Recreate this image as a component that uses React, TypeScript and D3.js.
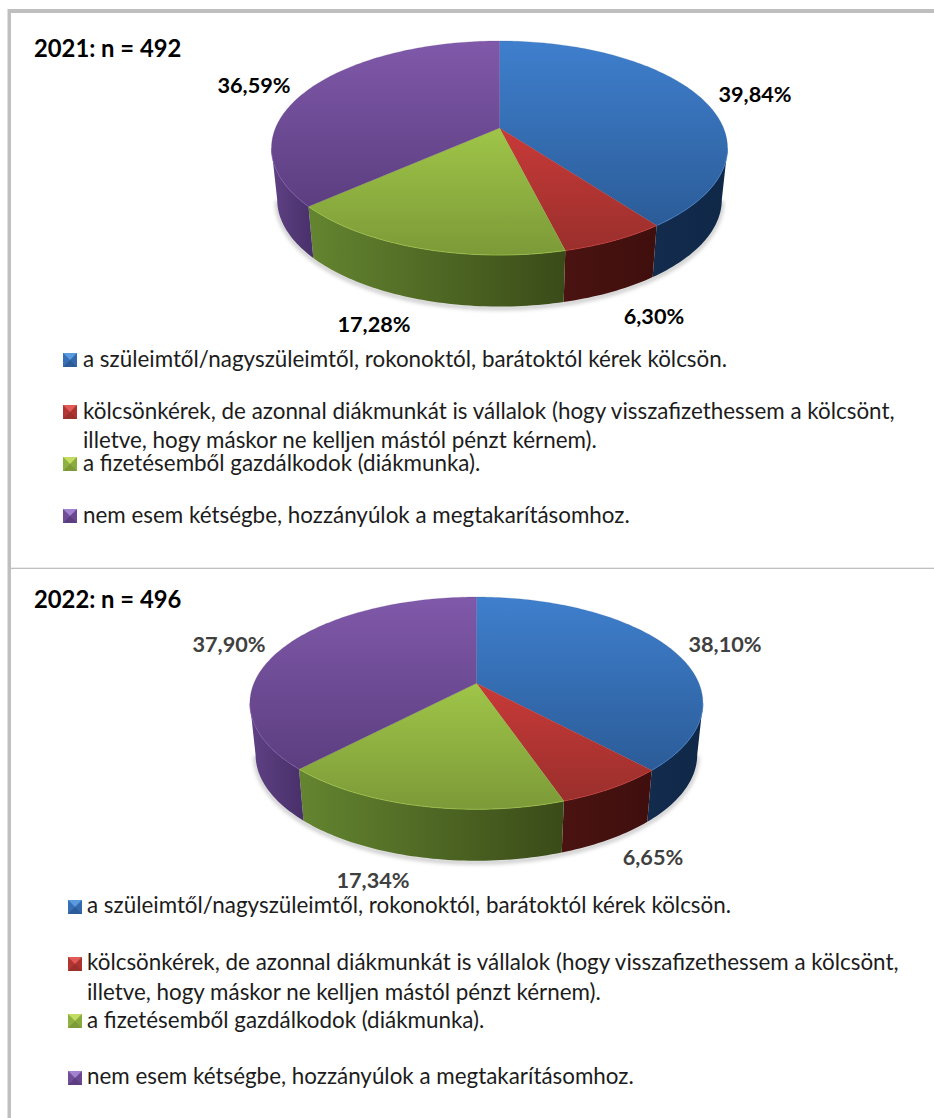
import React from "react";
import * as d3 from "d3";

const categories = [
  "a szüleimtől/nagyszüleimtől, rokonoktól, barátoktól kérek kölcsön.",
  "kölcsönkérek, de azonnal diákmunkát is vállalok (hogy visszafizethessem a kölcsönt,",
  "a fizetésemből gazdálkodok (diákmunka).",
  "nem esem kétségbe, hozzányúlok a megtakarításomhoz.",
];
const categorySecondLine = "illetve, hogy máskor ne kelljen mástól pénzt kérnem).";
const values2021 = [39.84, 6.3, 17.28, 36.59];
const values2022 = [38.1, 6.65, 17.34, 37.9];
const labels2021 = ["39,84%", "6,30%", "17,28%", "36,59%"];
const labels2022 = ["38,10%", "6,65%", "17,34%", "37,90%"];
const topLight = ["#3f7fcd", "#c83a38", "#9fc548", "#8059aa"];
const topDark = ["#2b5c98", "#9a2f2c", "#7c9a38", "#5c3e80"];
const sideLeft = ["#132b4c", "#4a1311", "#648530", "#5f4184"];
const sideRight = ["#102848", "#3f0f0d", "#3a4b18", "#48306a"];
const swatchLight = ["#5a9be0", "#e05a58", "#c3dc62", "#a383cf"];

const K = 0.187;
const DEPTH_SCALE = 0.975;

type PieSpec = {
  id: string; cx: number; apexY: number; a: number; b: number; depth: number;
  values: number[]; labels: string[]; labelPos: [number, number][]; labelColor: string;
};

function project(p: PieSpec, angle: number, lower: boolean): [number, number] {
  const u = Math.sin(angle), v = -Math.cos(angle);
  const w = 1 - K * v;
  const sx = lower ? DEPTH_SCALE : 1;
  return [p.cx + (p.a * sx * u) / w, p.apexY + (p.b * v) / w + (lower ? p.depth : 0)];
}

function arcPts(p: PieSpec, a0: number, a1: number, lower: boolean) {
  const n = Math.max(2, Math.ceil(Math.abs(a1 - a0) / 0.02));
  return d3.range(n + 1).map((i) => project(p, a0 + ((a1 - a0) * i) / n, lower));
}

const line = d3.line();

function Pie3D({ spec }: { spec: PieSpec }) {
  const slices = d3.pie<number>().sort(null).value((d) => d)(spec.values);
  const frontStart = Math.acos(-K);
  const frontEnd = 2 * Math.PI - frontStart;
  const whole = arcPts(spec, frontStart, frontEnd, true);
  return (
    <g>
      <defs>
        <filter id={`sh${spec.id}`} x="-10%" y="-10%" width="120%" height="130%">
          <feGaussianBlur stdDeviation="2.2" />
        </filter>
        {slices.map((s, i) => (
          <React.Fragment key={i}>
            <linearGradient id={`t${spec.id}${i}`} x1="0" y1="0" x2="0" y2="1">
              <stop offset="0" stopColor={topLight[i]} />
              <stop offset="1" stopColor={topDark[i]} />
            </linearGradient>
            <linearGradient id={`s${spec.id}${i}`} x1="0" y1="0" x2="1" y2="0">
              <stop offset="0" stopColor={sideLeft[i]} />
              <stop offset="1" stopColor={sideRight[i]} />
            </linearGradient>
          </React.Fragment>
        ))}
      </defs>
      <path
        d={line(whole.map(([x, y]) => [x, y + 1.5]) as [number, number][]) ?? ""}
        fill="none" stroke="#000" strokeOpacity={0.3} strokeWidth={3}
        filter={`url(#sh${spec.id})`}
      />
      {slices.map((s, i) => {
        const a0 = Math.max(s.startAngle, frontStart);
        const a1 = Math.min(s.endAngle, frontEnd);
        if (a1 <= a0) return null;
        const top = arcPts(spec, a0, a1, false);
        const bottom = arcPts(spec, a1, a0, true);
        return (
          <path key={i} d={(line([...top, ...bottom] as [number, number][]) ?? "") + "Z"}
            fill={`url(#s${spec.id}${i})`} />
        );
      })}
      {slices.map((s, i) => {
        const outer = arcPts(spec, s.startAngle, s.endAngle, false);
        const apex: [number, number] = [spec.cx, spec.apexY];
        const a0 = Math.max(s.startAngle, frontStart);
        const a1 = Math.min(s.endAngle, frontEnd);
        return (
          <g key={i}>
            <path d={(line([apex, ...outer] as [number, number][]) ?? "") + "Z"}
              fill={`url(#t${spec.id}${i})`} stroke={topDark[i]} strokeOpacity={0.4} strokeWidth={0.5} />
            {a1 > a0 && (
              <path d={line(arcPts(spec, a0, a1, false) as [number, number][]) ?? ""} fill="none"
                stroke={topLight[i]} strokeOpacity={0.7} strokeWidth={1} />
            )}
          </g>
        );
      })}
      {spec.labels.map((t, i) => (
        <text key={i} x={spec.labelPos[i][0]} y={spec.labelPos[i][1]} textAnchor="middle"
          fontFamily="Lato" fontWeight={700} fontSize={21.7} fill={spec.labelColor}>{t}</text>
      ))}
    </g>
  );
}

function Swatch({ x, y, i }: { x: number; y: number; i: number }) {
  const s = 14, m = s / 2;
  const d = (pts: [number, number][]) => (line(pts.map(([a, b]) => [x + a, y + b]) as [number, number][]) ?? "") + "Z";
  return (
    <g>
      <rect x={x} y={y} width={s} height={s} fill={topDark[i]} />
      <path d={d([[0, 0], [m, m], [0, s]])} fill={topLight[i]} opacity={0.55} />
      <path d={d([[s, 0], [s, s], [m, m]])} fill={topLight[i]} opacity={0.4} />
      <path d={d([[0, 0], [s, 0], [m, m]])} fill={swatchLight[i]} />
    </g>
  );
}

function Legend({ x, textX, swY, baselines }: { x: number; textX: number; swY: number[]; baselines: number[] }) {
  const common = { fontFamily: "Lato", fontSize: 22.4, fill: "#1c1c1c" };
  return (
    <g>
      {categories.map((c, i) => <Swatch key={i} x={x} y={swY[i]} i={i} />)}
      <text x={textX} y={baselines[0]} {...common}>{categories[0]}</text>
      <text x={textX} y={baselines[1]} {...common}>{categories[1]}</text>
      <text x={textX} y={baselines[2]} {...common}>{categorySecondLine}</text>
      <text x={textX} y={baselines[3]} {...common}>{categories[2]}</text>
      <text x={textX} y={baselines[4]} {...common}>{categories[3]}</text>
    </g>
  );
}

const pie1: PieSpec = {
  id: "a", cx: 499.5, apexY: 128, a: 224, b: 103.3, depth: 51.5,
  values: values2021, labels: labels2021, labelColor: "#000",
  labelPos: [[755, 102], [654, 324], [374, 332], [254, 93]],
};
const pie2: PieSpec = {
  id: "b", cx: 476.4, apexY: 683.3, a: 222.5, b: 102.4, depth: 51.5,
  values: values2022, labels: labels2022, labelColor: "#404040",
  labelPos: [[725, 652], [653, 865], [373, 888], [229, 652]],
};

export default function App() {
  return (
    <svg width={934} height={1118} style={{ position: "absolute", left: 0, top: 0, background: "#fff" }}>
      <rect x={8} y={9} width={926} height={4} fill="#bfbfbf" />
      <rect x={7.5} y={9} width={3.5} height={1109} fill="#bfbfbf" />
      <rect x={11} y={567.7} width={923} height={1.3} fill="#c0c0c0" />
      <text x={34} y={57} fontFamily="Lato" fontWeight={700} fontSize={23.8} fill="#000">2021: n = 492</text>
      <text x={34} y={608} fontFamily="Lato" fontWeight={700} fontSize={23.8} fill="#000">2022: n = 496</text>
      <Pie3D spec={pie1} />
      <Pie3D spec={pie2} />
      <Legend x={63} textX={83} swY={[353, 405, 457, 509]} baselines={[367, 419, 448, 471, 523]} />
      <Legend x={68} textX={87} swY={[900, 957, 1014, 1071]} baselines={[913, 970, 1000, 1028, 1084]} />
    </svg>
  );
}
